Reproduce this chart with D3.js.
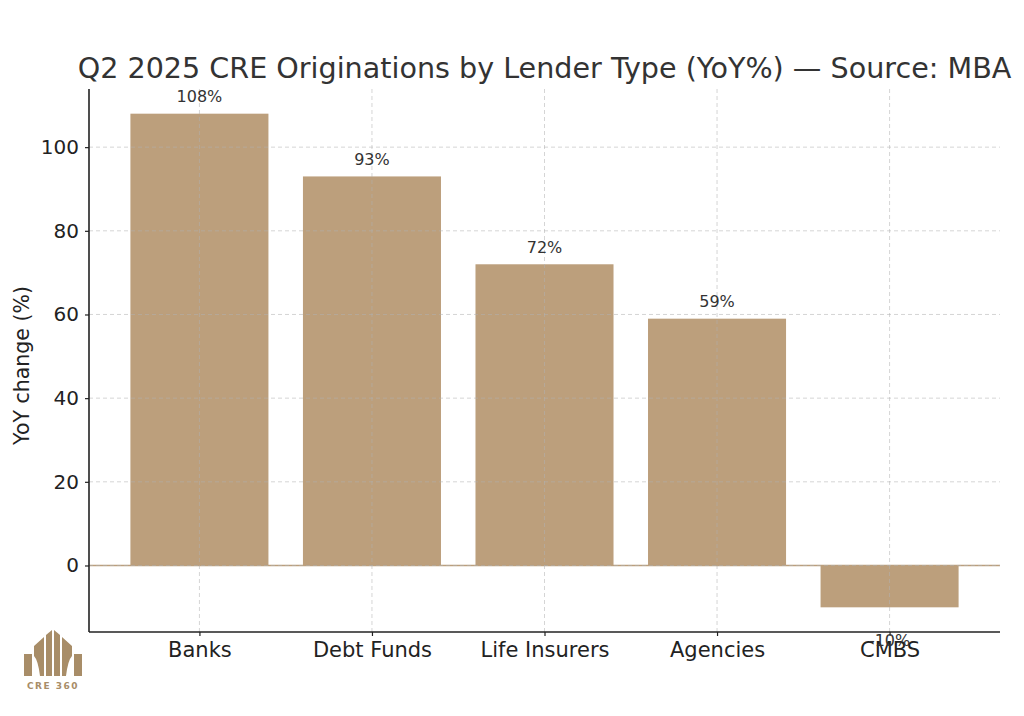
<!DOCTYPE html>
<html><head><meta charset="utf-8">
<script src="https://cdn.jsdelivr.net/npm/d3@7"></script>
<style>body{margin:0;background:#fff;} svg{display:block;font-family:"DejaVu Sans",sans-serif;}</style>
</head><body>
<svg id="chart" width="1024" height="716"></svg>
<script>
const categories = ["Banks","Debt Funds","Life Insurers","Agencies","CMBS"];
const yoyValues = [108, 93, 72, 59, -10];
const valueLabels = ["108%","93%","72%","59%","-10%"];
const yTicks = [0, 20, 40, 60, 80, 100];
const titleText = "Q2 2025 CRE Originations by Lender Type (YoY%) — Source: MBA";
const yLabel = "YoY change (%)";

const svg = d3.select("#chart");
const L = 89, R = 1000, T = 89, B = 632;
const barColor = "#bc9f7c";
const textColor = "#333333";

const x = d3.scaleLinear().domain([-0.64, 4.64]).range([L, R]);
const y = d3.scaleLinear().domain([-15.9, 113.9]).range([B, T]);
const bw = x(0.4) - x(-0.4);

// bars
svg.append("g").selectAll("rect").data(yoyValues).join("rect")
  .attr("x", (d,i) => x(i) - bw/2)
  .attr("y", d => y(Math.max(0,d)))
  .attr("width", bw)
  .attr("height", d => Math.abs(y(d) - y(0)))
  .attr("fill", barColor);

// zero line
svg.append("line").attr("x1", L).attr("x2", R).attr("y1", y(0)).attr("y2", y(0))
  .attr("stroke", barColor).attr("stroke-width", 1.6);

// grid (over bars)
const grid = svg.append("g").attr("stroke", "#b0b0b0").attr("stroke-opacity", 0.6)
  .attr("stroke-dasharray", "4,3").attr("stroke-width", 0.9);
grid.selectAll(".gy").data(yTicks).join("line")
  .attr("x1", L).attr("x2", R).attr("y1", d => y(d)).attr("y2", d => y(d));
grid.selectAll(".gx").data(categories).join("line")
  .attr("x1", (d,i) => x(i)).attr("x2", (d,i) => x(i)).attr("y1", T).attr("y2", B);

// axes
const yAxis = d3.axisLeft(y).tickValues(yTicks).tickSize(4).tickPadding(6);
const gy = svg.append("g").attr("transform", `translate(${L},0)`).call(yAxis);
gy.select(".domain").attr("d", `M0,${T}V${B}`).attr("stroke", "#222").attr("stroke-width", 1.6);
gy.selectAll(".tick line").attr("stroke", "#222").attr("stroke-width", 1.2);
gy.selectAll(".tick text").attr("font-size", 20).attr("fill", "#222").attr("font-family", "DejaVu Sans");

const xAxis = d3.axisBottom(x).tickValues(d3.range(categories.length)).tickFormat(i => categories[i]).tickSize(4).tickPadding(6);
const gx = svg.append("g").attr("transform", `translate(0,${B})`).call(xAxis);
gx.select(".domain").attr("d", `M${L},0H${R}`).attr("stroke", "#222").attr("stroke-width", 1.6);
gx.selectAll(".tick line").attr("stroke", "#222").attr("stroke-width", 1.2);
gx.selectAll(".tick text").attr("font-size", 21).attr("fill", "#222").attr("font-family", "DejaVu Sans");

// value labels
svg.append("g").selectAll("text").data(yoyValues).join("text")
  .attr("x", (d,i) => x(i))
  .attr("y", d => d >= 0 ? y(d + 2) - 3 : y(d - 6))
  .attr("dy", d => d >= 0 ? 0 : "0.85em")
  .attr("text-anchor", "middle")
  .attr("font-size", 16).attr("fill", textColor)
  .text((d,i) => valueLabels[i]);

// title
svg.append("text").attr("x", (L+R)/2).attr("y", 78).attr("text-anchor", "middle")
  .attr("font-size", 28.6).attr("fill", textColor).text(titleText);

// y label
svg.append("text").attr("transform", `translate(29,${(T+B)/2 + 5}) rotate(-90)`)
  .attr("text-anchor", "middle").attr("font-size", 20.5).attr("fill", "#222").text(yLabel);

// logo
const logo = svg.append("g").attr("fill", "#a88d68");
logo.append("rect").attr("x", 24).attr("y", 654).attr("width", 8).attr("height", 22);
logo.append("path").attr("d", "M34,646 L44,637 L44,676 L40,676 Q38,660 34,656 Z");
logo.append("path").attr("d", "M46,635 L52,630 L52,676 L46,676 Z");
logo.append("path").attr("d", "M54,630 L60,635 L60,676 L54,676 Z");
logo.append("path").attr("d", "M62,637 L72,646 L72,656 Q68,660 66,676 L62,676 Z");
logo.append("rect").attr("x", 74).attr("y", 654).attr("width", 8).attr("height", 22);
logo.append("text").attr("x", 53).attr("y", 689).attr("text-anchor", "middle")
  .attr("font-size", 9).attr("font-weight", "bold").attr("letter-spacing", 1.5).text("CRE 360");
</script>
</body></html>
